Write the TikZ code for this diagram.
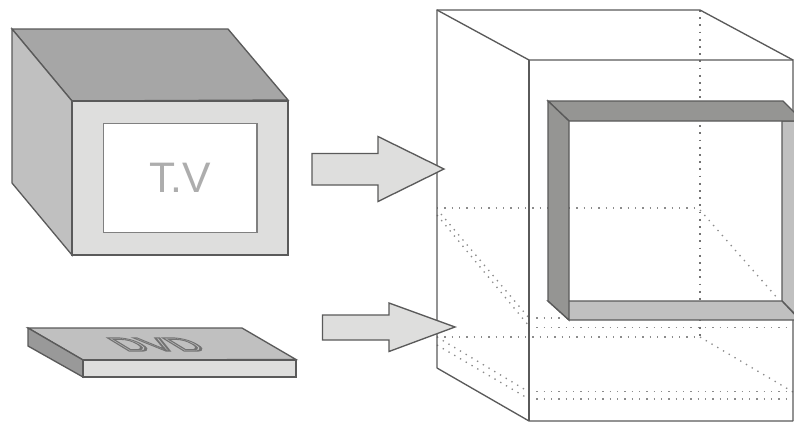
\documentclass[tikz,border=0pt]{standalone}
\usepackage{fontspec}
\setmainfont{Liberation Sans}
\definecolor{edge}{HTML}{5A5A5A}
\definecolor{faceL}{HTML}{DEDEDD}
\definecolor{faceM}{HTML}{C0C0C0}
\definecolor{faceT}{HTML}{A6A6A6}
\definecolor{faceD}{HTML}{959593}
\definecolor{dvdS}{HTML}{999999}
\tikzset{
  solidface/.style={draw=edge,line width=1pt,line join=miter},
  boxline/.style={draw=edge,line width=1pt},
  hidden/.style={draw=black!45,line width=1pt,dash pattern=on 1pt off 4.5pt},
  hiddenv/.style={draw=black!55,line width=0.9pt,dash pattern=on 1.3pt off 4.1pt},
  hiddenfine/.style={draw=black!45,line width=1pt,dash pattern=on 1pt off 4pt}
}
\begin{document}
\begin{tikzpicture}[x=0.75pt,y=-0.75pt]
\useasboundingbox (0,0) rectangle (794,422);
\fill[white] (0,0) rectangle (794,422);
% TV
\path[solidface,fill=faceT] (12,29) -- (228,29) -- (288,100) -- (72,101) -- cycle;
\path[solidface,fill=faceM] (12,29) -- (72,101) -- (72,255) -- (12,183) -- cycle;
\path[solidface,fill=faceL] (72,101) rectangle (288,255);
\path[solidface,fill=white,draw=black!50] (103.5,123.5) rectangle (257,232.5);
\node[inner sep=0pt,text=black!32,font=\fontsize{32}{32}\selectfont] (tvlabel) at (180,177.5) {T.V};
% DVD
\path[solidface,fill=faceM] (28,328) -- (242,328) -- (296,359.5) -- (83,360) -- cycle;
\path[solidface,fill=dvdS] (28,328) -- (83,360) -- (83,377) -- (28,346) -- cycle;
\path[solidface,fill=faceL] (83,360) rectangle (296,377);
\node[inner sep=0pt,xscale=2.05,xslant=-0.8,transform shape,font=\fontsize{14.5}{14.5}\selectfont] (dvdlabel) at (157,344.5)
  {\textcolor{faceM}{\special{pdf:code 1 Tr 0.8 w 0.45 0.45 0.45 RG}DVD\special{pdf:code 0 Tr}}};
% hidden edges of the case
\draw[hiddenv] (700,10) -- (700,337);
\draw[hidden] (437,208) -- (700,208);
\draw[hidden] (437,337) -- (700,337);
\draw[hidden] (529,327.5) -- (793,327.5);
\draw[hidden] (529,318) -- (569,318);
\draw[hidden] (529,391.5) -- (793,391.5);
\draw[hidden] (529,399) -- (793,399);
\draw[hiddenfine] (700,210) -- (779,300);
\draw[hiddenfine] (700,337) -- (793,392);
\draw[hiddenfine] (437,215) -- (529,326);
\draw[hiddenfine] (441,214) -- (529,318);
\draw[hiddenfine] (437,337) -- (529,392);
\draw[hiddenfine] (437,345) -- (529,399);
% case
\draw[boxline] (437,368) -- (437,10) -- (700,10) -- (793,60);
\draw[boxline] (437,10) -- (529,60) -- (793,60) -- (793,421);
\draw[boxline] (437,368) -- (529,421) -- (793,421);
\draw[boxline] (529,60) -- (529,421);
% frame inside the case
\begin{scope}
\clip (0,0) rectangle (794,422);
\path[solidface,fill=faceM] (782,121) -- (782,301) -- (800,319) -- (800,121) -- cycle;
\path[solidface,fill=faceM] (548,301) -- (782,301) -- (800,320) -- (569,320) -- cycle;
\path[solidface,fill=faceD] (548,101) -- (783,101) -- (803,121) -- (569,121) -- cycle;
\path[solidface,fill=faceD] (548,101) -- (569,121) -- (569,320) -- (548,301) -- cycle;
\end{scope}
% arrows
\path[fill=faceL,draw=edge,line width=1pt] (312,153.5) -- (378,153.5) -- (378,136.5) -- (444,169) -- (378,201.5) -- (378,185) -- (312,185) -- cycle;
\path[fill=faceL,draw=edge,line width=1pt] (322.5,315) -- (389,315) -- (389,303) -- (455,327) -- (389,351.5) -- (389,340) -- (322.5,340) -- cycle;
\end{tikzpicture}
\end{document}
